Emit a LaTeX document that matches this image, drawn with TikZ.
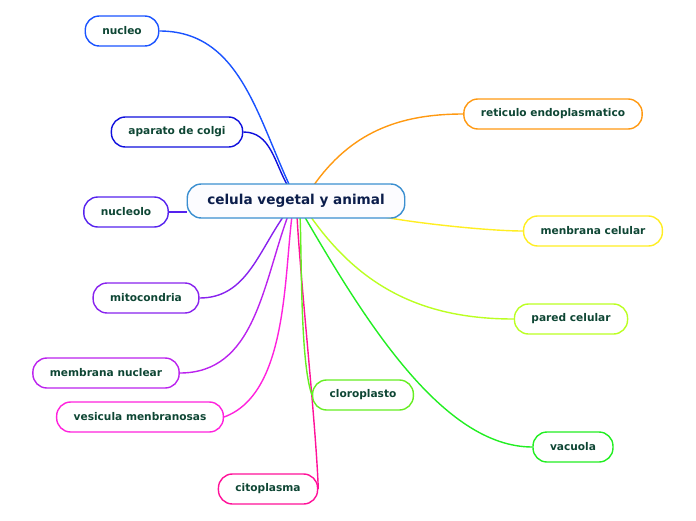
\documentclass[tikz,border=0pt]{standalone}
\usepackage{fontspec}
\setmainfont{DejaVu Sans}
\usepackage{xcolor}
\usepackage{tikz}
\usetikzlibrary{backgrounds}
\definecolor{txtgreen}{HTML}{0E4634}
\definecolor{txtnavy}{HTML}{0B1D4B}
\definecolor{celblue}{HTML}{3B8FD0}
\definecolor{cNucleo}{HTML}{1A53FF}
\definecolor{cColgi}{HTML}{1010DD}
\definecolor{cNucleolo}{HTML}{5522EE}
\definecolor{cMito}{HTML}{8822EE}
\definecolor{cMemNuc}{HTML}{BB22EE}
\definecolor{cVesic}{HTML}{FF22DD}
\definecolor{cCito}{HTML}{FF1199}
\definecolor{cCloro}{HTML}{66EE22}
\definecolor{cVacuola}{HTML}{22EE22}
\definecolor{cPared}{HTML}{BBFF22}
\definecolor{cMemCel}{HTML}{FFEE22}
\definecolor{cReticulo}{HTML}{FF9911}
\tikzset{
  central/.style={rectangle, rounded corners=14pt, draw=celblue, line width=1.4pt,
    fill=blue!1, minimum height=34pt, inner xsep=20pt, text=txtnavy,
    font=\bfseries\fontsize{13.6}{16}\selectfont},
  topic/.style={rectangle, rounded corners=14pt, draw=#1, line width=1.4pt,
    fill=white, minimum height=30pt, inner xsep=17pt, text=txtgreen,
    font=\bfseries\fontsize{10.6}{13}\selectfont},
  branch/.style={draw=#1, line width=1.4pt},
}

\begin{document}
\begin{tikzpicture}[x=1pt, y=1pt]
  \useasboundingbox (0,0) rectangle (696,-520);
  % central topic
  \node[central] (cel) at (296,-201) {celula vegetal y animal};
  % left side
  \node[topic=cNucleo] (nucleo) at (122,-31) {nucleo};
  \node[topic=cColgi] (colgi) at (177,-132) {aparato de colgi};
  \node[topic=cNucleolo] (nucleolo) at (126,-212) {nucleolo};
  \node[topic=cMito] (mito) at (146,-298) {mitocondria};
  \node[topic=cMemNuc] (memnuc) at (106,-373) {membrana nuclear};
  \node[topic=cVesic] (vesic) at (140,-417) {vesicula menbranosas};
  \node[topic=cCito] (cito) at (268,-489) {citoplasma};
  % right side
  \node[topic=cReticulo] (reticulo) at (553,-114) {reticulo endoplasmatico};
  \node[topic=cMemCel] (memcel) at (593,-231) {menbrana celular};
  \node[topic=cPared] (pared) at (571,-319) {pared celular};
  \node[topic=cCloro] (cloro) at (363,-395) {cloroplasto};
  \node[topic=cVacuola] (vacuola) at (573,-447) {vacuola};
  % branches
  \begin{scope}[on background layer]
    \draw[branch=cNucleo] (nucleo.east) to[out=0,in=115] ([xshift=-6pt,yshift=-3pt]cel.north);
    \draw[branch=cColgi] (colgi.east) to[out=0,in=120] ([xshift=-8pt,yshift=-3pt]cel.north);
    \draw[branch=cNucleolo] (nucleolo.east) -- (nucleolo.east -| cel.west);
    \draw[branch=cMito] (mito.east) to[out=0,in=-125] ([xshift=-12pt,yshift=3pt]cel.south);
    \draw[branch=cMemNuc] (memnuc.east) to[out=0,in=-110] ([xshift=-8pt,yshift=3pt]cel.south);
    \draw[branch=cVesic] (vesic.east) to[out=20,in=-97,looseness=0.8] ([xshift=-4pt,yshift=3pt]cel.south);
    \draw[branch=cCito] (cito.east) to[out=92,in=-87,looseness=0.6] ([xshift=1pt,yshift=3pt]cel.south);
    \draw[branch=cReticulo] (reticulo.west) to[out=180,in=55] ([xshift=17pt,yshift=-3pt]cel.north);
    \draw[branch=cMemCel] (memcel.west) to[out=180,in=-12,looseness=0.6] ([xshift=-28pt,yshift=3pt]cel.south east);
    \draw[branch=cPared] (pared.west) to[out=180,in=-55] ([xshift=14pt,yshift=3pt]cel.south);
    \draw[branch=cVacuola] (vacuola.west) .. controls +(-90,0) and +(60,-103) .. ([xshift=8pt,yshift=3pt]cel.south);
    \draw[branch=cCloro] (cloro.west) to[out=110,in=-87,looseness=0.5] ([xshift=4pt,yshift=3pt]cel.south);
  \end{scope}
\end{tikzpicture}
\end{document}
